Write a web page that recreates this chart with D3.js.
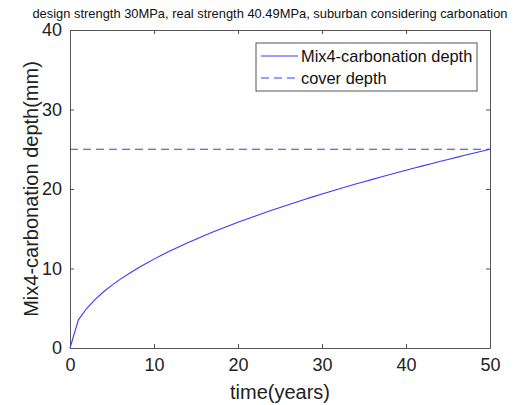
<!DOCTYPE html>
<html>
<head>
<meta charset="utf-8">
<script src="https://cdn.jsdelivr.net/npm/d3@7"></script>
<style>
  body { margin: 0; background: #fff; }
  svg { font-family: "Liberation Sans", Arial, sans-serif; }
</style>
</head>
<body>
<div id="chart-div"></div>
<script>
// data
const years = [0,1,2,3,4,5,6,7,8,9,10,11,12,13,14,15,16,17,18,19,20,21,22,23,24,25,
               26,27,28,29,30,31,32,33,34,35,36,37,38,39,40,41,42,43,44,45,46,47,48,49,50];
const carbDepth = [0,3.54,5.00,6.12,7.07,7.91,8.66,9.35,10.00,10.61,11.18,11.73,12.25,12.75,13.23,13.69,
                   14.14,14.58,15.00,15.41,15.81,16.20,16.58,16.96,17.32,17.68,18.03,18.37,18.71,19.04,
                   19.36,19.69,20.00,20.31,20.62,20.92,21.21,21.51,21.79,22.08,22.36,22.64,22.91,23.18,
                   23.45,23.72,23.98,24.24,24.49,24.75,25.00];
const coverDepth = 25;
const xTicks = [0, 10, 20, 30, 40, 50];
const yTicks = [0, 10, 20, 30, 40];
const seriesNames = ["Mix4-carbonation depth", "cover depth"];

const width = 532, height = 405;
const plotL = 70, plotR = 490, plotT = 30, plotB = 348;
const blue = "#3a3aff";
const axisCol = "#555";

const xScale = d3.scaleLinear().domain([0, 50]).range([plotL, plotR]);
const yScale = d3.scaleLinear().domain([0, 40]).range([plotB, plotT]);

const svg = d3.select("#chart-div")
              .append("svg")
              .attr("width", width)
              .attr("height", height);

/* axes: ticks point inward, box on all four sides */
const tick = 4;
svg.append("g").attr("transform", `translate(0,${plotB})`)
   .call(d3.axisBottom(xScale).tickValues(xTicks).tickSizeInner(-tick).tickSizeOuter(0).tickPadding(10))
   .call(g => g.selectAll("text").attr("font-size", 18).attr("fill", "#222"));
svg.append("g").attr("transform", `translate(0,${plotT})`)
   .call(d3.axisTop(xScale).tickValues(xTicks).tickSizeInner(-tick).tickSizeOuter(0).tickFormat(""));
svg.append("g").attr("transform", `translate(${plotL},0)`)
   .call(d3.axisLeft(yScale).tickValues(yTicks).tickSizeInner(-tick).tickSizeOuter(0).tickPadding(8))
   .call(g => g.selectAll("text").attr("font-size", 18).attr("fill", "#222"));
svg.append("g").attr("transform", `translate(${plotR},0)`)
   .call(d3.axisRight(yScale).tickValues(yTicks).tickSizeInner(-tick).tickSizeOuter(0).tickFormat(""));
svg.selectAll(".domain, .tick line").attr("stroke", axisCol);

// cover depth line
svg.append("line")
   .attr("x1", xScale(0)).attr("x2", xScale(50))
   .attr("y1", yScale(coverDepth)).attr("y2", yScale(coverDepth))
   .attr("stroke", blue).attr("stroke-dasharray", "8,5");

// carbonation curve
const line = d3.line().x((d, i) => xScale(years[i])).y(d => yScale(d));
svg.append("path")
   .datum(carbDepth)
   .attr("d", line)
   .attr("fill", "none")
   .attr("stroke", blue)
   .attr("stroke-width", 1.1);

// legend
const lg = svg.append("g");
lg.append("rect").attr("x", 256).attr("y", 43).attr("width", 221).attr("height", 48)
  .attr("fill", "#fff").attr("stroke", axisCol);
seriesNames.forEach((name, i) => {
  const y = 56 + i * 22;
  lg.append("line").attr("x1", 261).attr("x2", 298).attr("y1", y).attr("y2", y)
    .attr("stroke", blue).attr("stroke-dasharray", i ? "8,5" : null);
  lg.append("text").attr("x", 301).attr("y", y + 6).attr("font-size", 16.4)
    .attr("fill", "#111").text(name);
});

// title and axis labels
svg.append("text").attr("x", 270).attr("y", 18).attr("text-anchor", "middle")
   .attr("font-size", 12.9).attr("fill", "#111")
   .text("design strength 30MPa, real strength 40.49MPa, suburban considering carbonation");
svg.append("text").attr("x", 280).attr("y", 399).attr("text-anchor", "middle")
   .attr("font-size", 20).attr("fill", "#222").text("time(years)");
svg.append("text").attr("transform", `translate(38,${(plotT + plotB) / 2}) rotate(-90)`)
   .attr("text-anchor", "middle").attr("font-size", 20).attr("fill", "#222")
   .text("Mix4-carbonation depth(mm)");
</script>
</body>
</html>
